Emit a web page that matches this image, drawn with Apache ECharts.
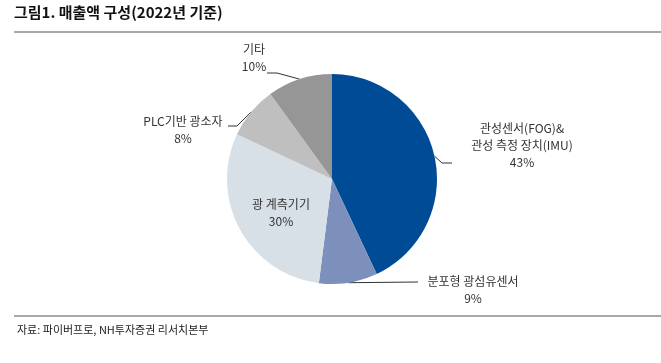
<!DOCTYPE html>
<html>
<head>
<meta charset="utf-8">
<script src="https://cdn.jsdelivr.net/npm/echarts@6/dist/echarts.min.js"></script>
<style>
html,body{margin:0;padding:0;background:#fff;}
#c{width:661px;height:363px;}
</style>
</head>
<body>
<div id="c"></div>
<script>
const categories = ['관성센서(FOG)&\n관성 측정 장치(IMU)', '분포형 광섬유센서', '광 계측기기', 'PLC기반 광소자', '기타'];
const values = [43, 9, 30, 8, 10];
const colors = ['#004B96', '#7D8FBB', '#D7DFE7', '#BFBFBF', '#969696'];
const titleText = '그림1. 매출액 구성(2022년 기준)';
const sourceText = '자료: 파이버프로, NH투자증권 리서치본부';

// label placement (annotation positions)
const labelPos = [
  {x: 522, y: 145, line: [[442, 163], [452, 163]]},
  {x: 473, y: 290, line: [[418, 282]]},
  {x: 281, y: 213, line: null},
  {x: 183, y: 130, line: [[237, 126], [228, 126]]},
  {x: 254, y: 58, line: [[277, 73], [267, 73]]}
];

const FONT = '"Noto Sans CJK KR", "Noto Sans", sans-serif';
const chart = echarts.init(document.getElementById('c'), null, {renderer: 'canvas'});

const data = categories.map((name, i) => ({
  name: name,
  value: values[i],
  itemStyle: {color: colors[i]},
  label: i === 2 ? {position: 'inside'} : {position: 'outside'},
  labelLine: {show: i !== 2}
}));

chart.setOption({
  animation: false,
  graphic: [
    {type: 'text', left: 14, top: 5, style: {text: titleText, font: 'bold 15px ' + FONT, fill: '#111'}},
    {type: 'line', shape: {x1: 14, y1: 32, x2: 661, y2: 32}, style: {stroke: '#8c8c8c', lineWidth: 1.5}},
    {type: 'line', shape: {x1: 14, y1: 316, x2: 661, y2: 316}, style: {stroke: '#8c8c8c', lineWidth: 1.5}},
    {type: 'text', left: 17, top: 324, style: {text: sourceText, font: '11px ' + FONT, fill: '#222'}}
  ],
  series: [{
    type: 'pie',
    center: [332, 179],
    radius: 105,
    startAngle: 90,
    clockwise: true,
    avoidLabelOverlap: false,
    emphasis: {disabled: true},
    itemStyle: {borderWidth: 0},
    label: {
      formatter: '{b}\n{c}%',
      fontFamily: FONT,
      fontSize: 12,
      lineHeight: 17,
      color: '#333',
      align: 'center'
    },
    labelLine: {lineStyle: {color: '#333', width: 1}, length: 10, length2: 10},
    labelLayout: function (params) {
      const p = labelPos[params.dataIndex];
      const out = {x: p.x, y: p.y, align: 'center', verticalAlign: 'middle'};
      if (p.line && params.labelLinePoints) {
        out.labelLinePoints = [params.labelLinePoints[0]].concat(p.line);
      }
      return out;
    },
    data: data
  }]
});
</script>
</body>
</html>
